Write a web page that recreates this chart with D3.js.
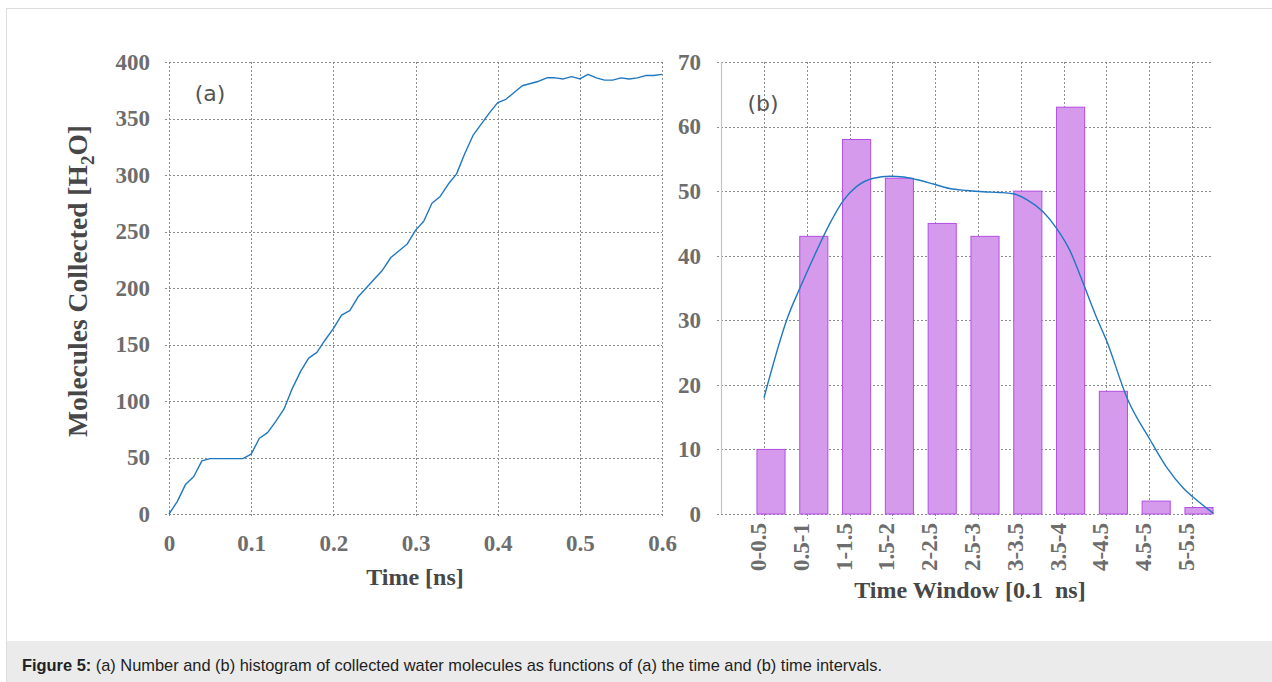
<!DOCTYPE html>
<html>
<head>
<meta charset="utf-8">
<script src="https://cdn.jsdelivr.net/npm/d3@7"></script>
<style>
  body { margin: 0; background: #fff; }
  svg { display: block; }
</style>
</head>
<body>
<svg id="fig" width="1272" height="682"></svg>
<script>
// (a) cumulative molecules collected vs time
const timeNs = [0, 0.01, 0.02, 0.03, 0.04, 0.05, 0.06, 0.07, 0.08, 0.09,
  0.10, 0.11, 0.12, 0.13, 0.14, 0.15, 0.16, 0.17, 0.18, 0.19,
  0.20, 0.21, 0.22, 0.23, 0.24, 0.25, 0.26, 0.27, 0.28, 0.29,
  0.30, 0.31, 0.32, 0.33, 0.34, 0.35, 0.36, 0.37, 0.38, 0.39,
  0.40, 0.41, 0.42, 0.43, 0.44, 0.45, 0.46, 0.47, 0.48, 0.49,
  0.50, 0.51, 0.52, 0.53, 0.54, 0.55, 0.56, 0.57, 0.58, 0.59, 0.60];
const collected = [0, 11, 26, 33, 47, 49, 49, 49, 49, 49,
  53, 67, 72, 82, 93, 111, 126, 138, 143, 154,
  164, 176, 180, 192, 200, 208, 216, 227, 233, 239,
  251, 259, 275, 281, 292, 301, 319, 335, 345, 355,
  364, 367, 373, 379, 381, 383, 386, 386, 385, 387,
  385, 389, 386, 384, 384, 386, 385, 386, 388, 388, 389];
const timeTicks = [0, 0.1, 0.2, 0.3, 0.4, 0.5, 0.6];
const timeTickLabels = ["0", "0.1", "0.2", "0.3", "0.4", "0.5", "0.6"];
const countTicksA = [0, 50, 100, 150, 200, 250, 300, 350, 400];

// (b) histogram per time window, with a smooth fitted curve
const windows = ["0-0.5", "0.5-1", "1-1.5", "1.5-2", "2-2.5", "2.5-3",
  "3-3.5", "3.5-4", "4-4.5", "4.5-5", "5-5.5"];
const counts = [10, 43, 58, 52, 45, 43, 50, 63, 19, 2, 1];
const countTicksB = [0, 10, 20, 30, 40, 50, 60, 70];
// fit curve: time (units of 0.1 ns, window midpoints at 0.25, 0.75, ...) and value
const fitT = [0.25, 0.53, 0.67, 0.87, 1.02, 1.18, 1.33, 1.53, 1.72, 1.88,
  2.03, 2.23, 2.42, 2.62, 2.81, 3.0, 3.16, 3.32, 3.51, 3.67,
  3.82, 3.98, 4.13, 4.25, 4.5, 4.76, 4.95, 5.15, 5.3, 5.5];
const fitV = [18, 30.6, 35, 40.9, 45, 48.6, 50.7, 52, 52.3, 52.2,
  51.8, 51.1, 50.4, 50.1, 49.9, 49.8, 49.6, 48.7, 46.8, 44.2,
  40.9, 35.7, 30.6, 26.9, 17.7, 11.5, 7.3, 4, 2.2, 0.1];

const svg = d3.select("#fig");
const serif = "'Liberation Serif', 'Times New Roman', serif";
const sans = "'DejaVu Sans', Verdana, sans-serif";
const tickColor = "#6d6d6d";
const titleColor = "#474747";
const gridColor = "#8c8c8c";

// page frame and caption band
svg.append("rect").attr("x", 6.5).attr("y", 8.5).attr("width", 1275).attr("height", 680)
  .attr("fill", "#fff").attr("stroke", "#dcdcdc");
svg.append("rect").attr("x", 7).attr("y", 641).attr("width", 1265).attr("height", 41)
  .attr("fill", "#ebebeb");
const cap = svg.append("text").attr("x", 22).attr("y", 671)
  .style("font-family", "'Liberation Sans', Arial, sans-serif").style("font-size", "16.4px")
  .attr("fill", "#222");
cap.append("tspan").attr("font-weight", "bold").text("Figure 5:");
cap.append("tspan").text(" (a) Number and (b) histogram of collected water molecules as functions of (a) the time and (b) time intervals.");

function dotted(sel) {
  return sel.attr("stroke", gridColor).attr("stroke-width", 1)
    .attr("stroke-dasharray", "2,2").attr("shape-rendering", "crispEdges");
}

// ---------- panel (a) ----------
const xA = d3.scaleLinear().domain([0, 0.6]).range([169, 662]);
const yA = d3.scaleLinear().domain([0, 400]).range([514, 62]);
const gA = svg.append("g");

gA.selectAll("line.hgrid").data(countTicksA).join("line").attr("class", "hgrid")
  .attr("x1", 165).attr("x2", xA(0.6))
  .attr("y1", d => Math.round(yA(d)) + 0.5).attr("y2", d => Math.round(yA(d)) + 0.5)
  .call(dotted);
gA.selectAll("line.vgrid").data(timeTicks).join("line").attr("class", "vgrid")
  .attr("x1", d => Math.round(xA(d)) + 0.5).attr("x2", d => Math.round(xA(d)) + 0.5)
  .attr("y1", yA(400)).attr("y2", yA(0) + 4)
  .call(dotted);

const axA_y = gA.append("g").attr("transform", `translate(${xA(0)},0)`)
  .call(d3.axisLeft(yA).tickValues(countTicksA).tickSize(0).tickPadding(19));
const axA_x = gA.append("g").attr("transform", `translate(0,${yA(0)})`)
  .call(d3.axisBottom(xA).tickValues(timeTicks).tickSize(0).tickPadding(21)
    .tickFormat((d, i) => timeTickLabels[i]));
[axA_y, axA_x].forEach(ax => {
  ax.select(".domain").remove();
  ax.selectAll("text").style("font-family", serif).style("font-size", "23px")
    .style("font-weight", "bold").attr("fill", tickColor);
});

gA.append("path").datum(timeNs.map((t, i) => [t, collected[i]]))
  .attr("fill", "none").attr("stroke", "#1f78c1").attr("stroke-width", 1.4)
  .attr("stroke-linejoin", "round")
  .attr("d", d3.line().x(d => xA(d[0])).y(d => yA(d[1])));

gA.append("text").attr("x", 210).attr("y", 101).attr("text-anchor", "middle")
  .style("font-family", sans).style("font-size", "22px").attr("fill", "#555").text("(a)");

gA.append("text").attr("x", 415).attr("y", 585).attr("text-anchor", "middle")
  .style("font-family", serif).style("font-size", "24px").style("font-weight", "bold")
  .attr("fill", titleColor).text("Time [ns]");

const yTitle = gA.append("text").attr("transform", "translate(87,281) rotate(-90)")
  .attr("text-anchor", "middle")
  .style("font-family", serif).style("font-size", "27.5px").style("font-weight", "bold")
  .attr("fill", titleColor);
yTitle.append("tspan").text("Molecules Collected [H");
yTitle.append("tspan").attr("dy", 7).style("font-size", "19px").text("2");
yTitle.append("tspan").attr("dy", -7).text("O]");

// ---------- panel (b) ----------
const yB = d3.scaleLinear().domain([0, 70]).range([514, 62]);
const xB = d3.scaleBand().domain(windows).range([749.6, 1220.4])
  .paddingInner(0.32).paddingOuter(0.16);
const frameL = 721, frameR = 1213;
const tickShift = -7;   // category ticks sit slightly left of bar centres
const tickX = w => xB(w) + xB.bandwidth() / 2 + tickShift;
const xFit = d3.scaleLinear().domain([0.25, 5.25])
  .range([tickX(windows[0]), tickX(windows[windows.length - 1])]);
const gB = svg.append("g");

gB.selectAll("line.hgrid").data(countTicksB).join("line").attr("class", "hgrid")
  .attr("x1", frameL - 4).attr("x2", frameR)
  .attr("y1", d => Math.round(yB(d)) + 0.5).attr("y2", d => Math.round(yB(d)) + 0.5)
  .call(dotted);
gB.selectAll("line.vgrid").data(windows).join("line").attr("class", "vgrid")
  .attr("x1", d => Math.round(tickX(d)) + 0.5).attr("x2", d => Math.round(tickX(d)) + 0.5)
  .attr("y1", yB(70)).attr("y2", yB(0) + 5)
  .call(dotted);
gB.append("line").attr("x1", frameL + 0.5).attr("x2", frameL + 0.5)
  .attr("y1", yB(70)).attr("y2", yB(0))
  .attr("stroke", "#c4c4c4").attr("stroke-width", 1.2);

const axB_y = gB.append("g").attr("transform", `translate(${frameL},0)`)
  .call(d3.axisLeft(yB).tickValues(countTicksB).tickSize(0).tickPadding(20));
axB_y.select(".domain").remove();
axB_y.selectAll("text").style("font-family", serif).style("font-size", "23px")
  .style("font-weight", "bold").attr("fill", tickColor);

const axB_x = gB.append("g").attr("transform", `translate(${tickShift - 6},${yB(0)})`)
  .call(d3.axisBottom(xB).tickSize(0).tickPadding(0));
axB_x.select(".domain").remove();
axB_x.selectAll("text")
  .attr("transform", "rotate(-90)").attr("text-anchor", "end")
  .attr("x", -9).attr("y", 0).attr("dy", "0.35em")
  .style("font-family", serif).style("font-size", "23px")
  .style("font-weight", "bold").attr("fill", tickColor);

gB.selectAll("rect.bar").data(windows).join("rect").attr("class", "bar")
  .attr("x", d => xB(d) + 0.5).attr("width", xB.bandwidth() - 1)
  .attr("y", (d, i) => yB(counts[i]))
  .attr("height", (d, i) => yB(0) - yB(counts[i]))
  .attr("fill", "#d59aeb").attr("stroke", "#b24ee2").attr("stroke-width", 1);

gB.append("path").datum(fitT.map((t, i) => [t, fitV[i]]))
  .attr("fill", "none").attr("stroke", "#1f78c1").attr("stroke-width", 1.4)
  .attr("d", d3.line().x(d => xFit(d[0])).y(d => yB(d[1])).curve(d3.curveMonotoneX));

gB.append("text").attr("x", 763).attr("y", 111).attr("text-anchor", "middle")
  .style("font-family", sans).style("font-size", "22px").attr("fill", "#555").text("(b)");

gB.append("text").attr("x", 970).attr("y", 598).attr("text-anchor", "middle")
  .attr("xml:space", "preserve").style("white-space", "pre")
  .style("font-family", serif).style("font-size", "24px").style("font-weight", "bold")
  .attr("fill", titleColor).text("Time Window [0.1  ns]");
</script>
</body>
</html>
